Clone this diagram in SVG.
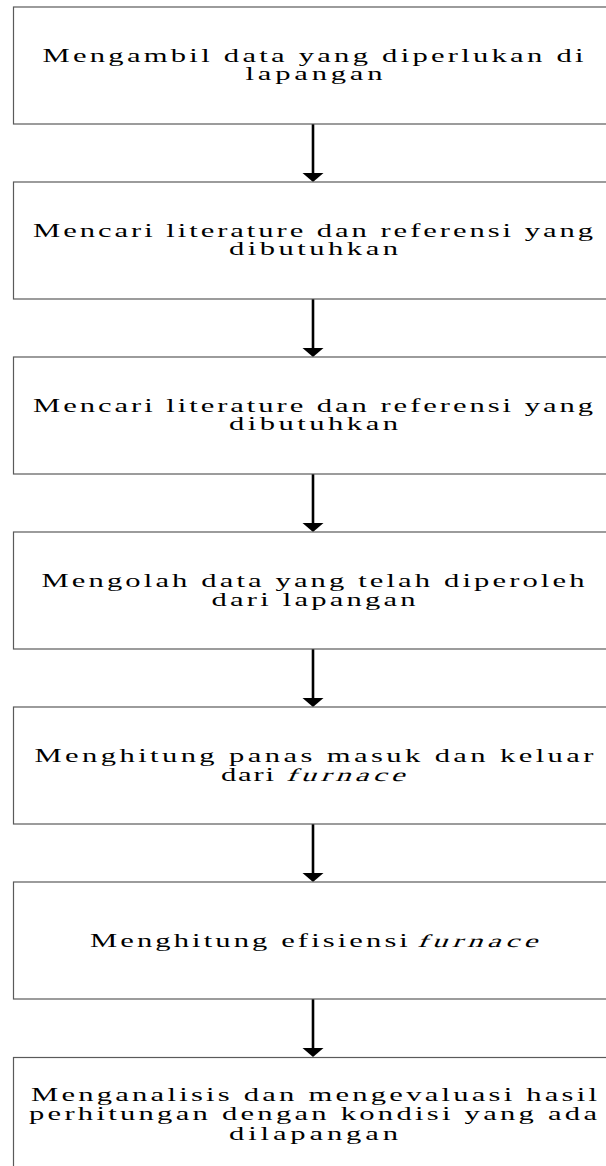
<svg xmlns="http://www.w3.org/2000/svg" width="606" height="1166" viewBox="0 0 606 1166">
<style>
.box{fill:#fff;stroke:#5a5a5a;stroke-width:1.2}
.t{font-family:"Liberation Serif","Times New Roman",serif;font-size:18px;fill:#000;text-anchor:middle}
.s{text-anchor:start}
.ln{stroke:#000;stroke-width:2.6;fill:none}
.hd{fill:#000}
</style>
<rect width="606" height="1166" fill="#fff"/>
<g id="connectors">
<line class="ln" x1="313" y1="124" x2="313" y2="174"/><polygon class="hd" points="302.5,173 323.5,173 313,182"/>
<line class="ln" x1="313" y1="299" x2="313" y2="349"/><polygon class="hd" points="302.5,348 323.5,348 313,357"/>
<line class="ln" x1="313" y1="474" x2="313" y2="524"/><polygon class="hd" points="302.5,523 323.5,523 313,532"/>
<line class="ln" x1="313" y1="649" x2="313" y2="699"/><polygon class="hd" points="302.5,698 323.5,698 313,707"/>
<line class="ln" x1="313" y1="824" x2="313" y2="874"/><polygon class="hd" points="302.5,873 323.5,873 313,882"/>
<line class="ln" x1="313" y1="999" x2="313" y2="1049"/><polygon class="hd" points="302.5,1048 323.5,1048 313,1057"/>
</g>
<g id="n1">
<rect class="box" x="13.5" y="7" width="598" height="117"/>
<text class="t" transform="translate(313,62) scale(1.7,1)" textLength="318.2" lengthAdjust="spacing">Mengambil data yang diperlukan di</text>
<text class="t" transform="translate(314,80) scale(1.7,1)" textLength="80.6" lengthAdjust="spacing">lapangan</text>
</g>
<g id="n2">
<rect class="box" x="13.5" y="182" width="598" height="117"/>
<text class="t" transform="translate(313,237) scale(1.7,1)" textLength="329.4" lengthAdjust="spacing">Mencari literature dan referensi yang</text>
<text class="t" transform="translate(313.5,255) scale(1.7,1)" textLength="99.4" lengthAdjust="spacing">dibutuhkan</text>
</g>
<g id="n3">
<rect class="box" x="13.5" y="357" width="598" height="117"/>
<text class="t" transform="translate(313,412) scale(1.7,1)" textLength="329.4" lengthAdjust="spacing">Mencari literature dan referensi yang</text>
<text class="t" transform="translate(313.5,430) scale(1.7,1)" textLength="99.4" lengthAdjust="spacing">dibutuhkan</text>
</g>
<g id="n4">
<rect class="box" x="13.5" y="532" width="598" height="117"/>
<text class="t" transform="translate(313,587) scale(1.7,1)" textLength="319.4" lengthAdjust="spacing">Mengolah data yang telah diperoleh</text>
<text class="t" transform="translate(313.5,606) scale(1.7,1)" textLength="120" lengthAdjust="spacing">dari lapangan</text>
</g>
<g id="n5">
<rect class="box" x="13.5" y="707" width="598" height="117"/>
<text class="t" transform="translate(314,762) scale(1.7,1)" textLength="328.8" lengthAdjust="spacing">Menghitung panas masuk dan keluar</text>
<text class="t s" transform="translate(221,780.5) scale(1.7,1)" textLength="31.2" lengthAdjust="spacing">dari</text>
<text class="t s" transform="translate(286,780.5) scale(1.7,1) skewX(-15)" textLength="69.5" lengthAdjust="spacing">furnace</text>
</g>
<g id="n6">
<rect class="box" x="13.5" y="882" width="598" height="117"/>
<text class="t s" transform="translate(90,946.5) scale(1.7,1)" textLength="187" lengthAdjust="spacing">Menghitung efisiensi</text>
<text class="t s" transform="translate(417,946.5) scale(1.7,1) skewX(-15)" textLength="70.5" lengthAdjust="spacing">furnace</text>
</g>
<g id="n7">
<rect class="box" x="13.5" y="1057.5" width="598" height="117"/>
<text class="t" transform="translate(314,1100.5) scale(1.7,1)" textLength="332.9" lengthAdjust="spacing">Menganalisis dan mengevaluasi hasil</text>
<text class="t" transform="translate(313,1120) scale(1.7,1)" textLength="334.1" lengthAdjust="spacing">perhitungan dengan kondisi yang ada</text>
<text class="t" transform="translate(313.5,1139.5) scale(1.7,1)" textLength="99.4" lengthAdjust="spacing">dilapangan</text>
</g>
</svg>
